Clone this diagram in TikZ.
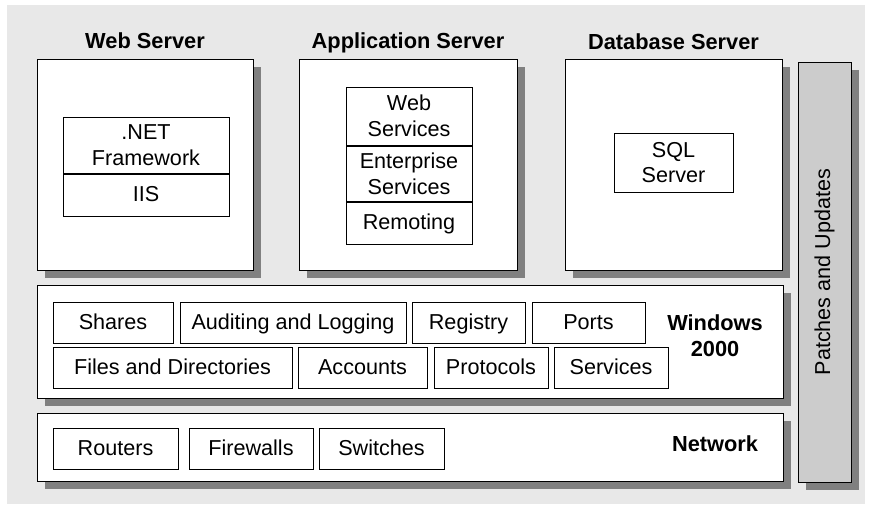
\documentclass[tikz,border=0pt]{standalone}
\usepackage{fontspec}
\setmainfont{Liberation Sans}
\usetikzlibrary{shadows}

\definecolor{bggray}{HTML}{E8E8E8}
\definecolor{shadowgray}{HTML}{808080}
\definecolor{patchgray}{HTML}{CCCCCC}

\tikzset{
  layer/.style={draw, line width=0.5pt, fill=white, inner sep=0pt,
    drop shadow={shadow xshift=4pt, shadow yshift=-4pt, fill=shadowgray, opacity=1}},
  item/.style={draw, line width=0.5pt, fill=white, inner sep=0pt, align=center,
    minimum height=20.5pt},
  word/.style={item, text height=8.2pt, text depth=1.4pt},
  title/.style={font=\fontsize{10.9}{13}\selectfont\bfseries, align=center}
}

\begin{document}
\begin{tikzpicture}[x=0.5pt, y=-0.5pt, font=\fontsize{10.8}{12.8}\selectfont]
  % Grey backdrop with a thin white margin
  \useasboundingbox (0,0) rectangle (870,505);
  \fill[bggray] (7,5) rectangle (865,504);

  % The three servers
  \node[layer, minimum width=108pt, minimum height=105.5pt] (websrv) at (145,164.5) {};
  \node[layer, minimum width=109pt, minimum height=105.5pt] (appsrv) at (408,164.5) {};
  \node[layer, minimum width=108.5pt, minimum height=105.5pt] (dbsrv) at (673.5,164.5) {};

  % Server titles, sitting on top of each box
  \node[title, anchor=base] (websrvtitle) at ([yshift=5pt]websrv.north) {Web Server};
  \node[title, anchor=base] (appsrvtitle) at ([yshift=5pt]appsrv.north) {Application Server};
  \node[title, anchor=base] (dbsrvtitle) at ([yshift=4.5pt]dbsrv.north) {Database Server};

  % Web server stack
  \node[item, minimum width=83pt, minimum height=28pt] (netfw) at (146,145) {.NET\\Framework};
  \node[word, minimum width=83pt, minimum height=21pt, anchor=north] (iis) at (netfw.south) {IIS};

  % Application server stack
  \node[item, minimum width=63pt, minimum height=29pt] (websvc) at (409,116) {Web\\Services};
  \node[item, minimum width=63pt, minimum height=27.5pt, anchor=north] (entsvc) at (websvc.south) {Enterprise\\Services};
  \node[word, minimum width=63pt, minimum height=21pt, anchor=north] (remoting) at (entsvc.south) {Remoting};

  % Database server
  \node[item, minimum width=59.5pt, minimum height=29.5pt] (sql) at (673.5,162.5) {SQL\\Server};

  % Patches bar down the right side
  \node[layer, fill=patchgray, minimum width=26.5pt, minimum height=210pt] (patches) at (824.5,272) {};
  \node[rotate=90] (patcheslabel) at (patches.center) {Patches and Updates};

  % Operating system layer
  \node[layer, minimum width=373pt, minimum height=56.5pt] (win) at (410,341.5) {};
  \node[title] (winlabel) at (715,336) {Windows\\2000};

  % First row
  \node[word, minimum width=60pt] (shares) at (113,322.5) {Shares};
  \node[word, minimum width=113pt] (audit) at (293,322.5) {Auditing and Logging};
  \node[word, minimum width=56.5pt] (registry) at (468.5,322.5) {Registry};
  \node[word, minimum width=56.5pt] (ports) at (588.5,322.5) {Ports};
  % Second row
  \node[word, minimum width=119.5pt] (files) at (172.5,367.5) {Files and Directories};
  \node[word, minimum width=64.5pt] (accounts) at (362.5,367.5) {Accounts};
  \node[word, minimum width=57pt] (protocols) at (491,367.5) {Protocols};
  \node[word, minimum width=57pt] (services) at (611,367.5) {Services};

  % Network layer
  \node[layer, minimum width=373pt, minimum height=34pt] (net) at (410,447) {};
  \node[title] (netlabel) at (715,444) {Network};
  \node[word, minimum width=62.5pt] (routers) at (115.5,448.5) {Routers};
  \node[word, minimum width=62pt] (firewalls) at (251,448.5) {Firewalls};
  \node[word, minimum width=62.5pt] (switches) at (381.5,448.5) {Switches};
\end{tikzpicture}
\end{document}
